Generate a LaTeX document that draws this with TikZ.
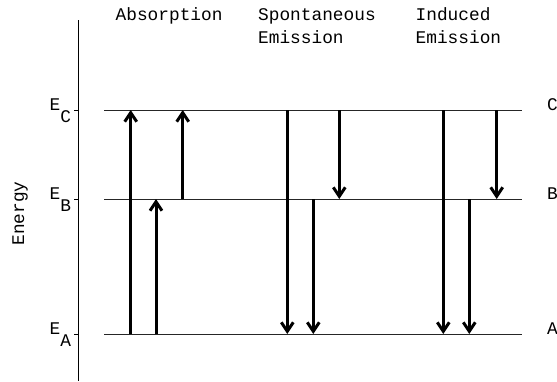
\documentclass[tikz,border=0pt]{standalone}
\usepackage{fontspec}
\setmonofont{Liberation Mono}
\usetikzlibrary{arrows.meta}
\begin{document}
\begin{tikzpicture}[x=1pt,y=-1pt,
  lbl/.style={inner sep=0pt, anchor=base west, font=\ttfamily\fontsize{17.8}{20}\selectfont},
  levelline/.style={line width=1pt, black!85},
  axisline/.style={line width=1pt, black},
  trans/.style={line width=3pt, -{Straight Barb[length=9pt,width=12pt,line width=3pt]}},
  plain/.style={line width=3pt}
]
\useasboundingbox (0,0) rectangle (557,381);
% axis
\coordinate (axtop) at (78.3,20);
\coordinate (axbot) at (78.3,381);
\draw[axisline] (axtop) -- (axbot);
% levels
\foreach \n/\y in {C/110,B/199,A/334}{
  \coordinate (L\n w) at (104,\y);
  \coordinate (L\n e) at (521.7,\y);
  \coordinate (T\n w) at (74,\y);
  \coordinate (T\n e) at (78.3,\y);
  \draw[levelline] (L\n w) -- (L\n e);
  \draw[axisline] (T\n w) -- (T\n e);
  \node[lbl] (E\n) at (49.5,\y) {E};
  \node[lbl] (S\n) at (60.2,\y+12) {\n};
  \node[lbl] (R\n) at (547,\y) {\n};
}
% titles
\node[lbl] (tabs) at (115.5,20.5) {Absorption};
\node[lbl] (tspo) at (258,20.5) {Spontaneous};
\node[lbl] (tspe) at (258,43.3) {Emission};
\node[lbl] (tind) at (415.5,20.5) {Induced};
\node[lbl] (tine) at (415.5,43.3) {Emission};
\node[lbl, rotate=90, anchor=base] (energy) at (24,213.5) {Energy};
% absorption
\coordinate (a1s) at (130.7,334); \coordinate (a1e) at (130.7,110);
\coordinate (a2s) at (156,334);   \coordinate (a2e) at (156,199);
\coordinate (a3s) at (182.7,199); \coordinate (a3e) at (182.7,110);
\draw[trans] (a1s) -- (a1e);
\draw[trans] (a2s) -- (a2e);
\draw[trans] (a3s) -- (a3e);
% spontaneous
\coordinate (s1s) at (287.3,110); \coordinate (s1e) at (287.3,334);
\coordinate (s2s) at (313.3,199); \coordinate (s2e) at (313.3,334);
\coordinate (s3s) at (339.3,110); \coordinate (s3e) at (339.3,199);
\draw[trans] (s1s) -- (s1e);
\draw[trans] (s2s) -- (s2e);
\draw[trans] (s3s) -- (s3e);
% induced
\coordinate (i1s) at (443.3,110); \coordinate (i1e) at (443.3,334);
\coordinate (i2s) at (469.3,199); \coordinate (i2e) at (469.3,334);
\coordinate (i3s) at (496.7,110); \coordinate (i3e) at (496.7,199);
\draw[trans] (i1s) -- (i1e);
\draw[trans] (i2s) -- (i2e);
\draw[trans] (i3s) -- (i3e);
\end{tikzpicture}
\end{document}
